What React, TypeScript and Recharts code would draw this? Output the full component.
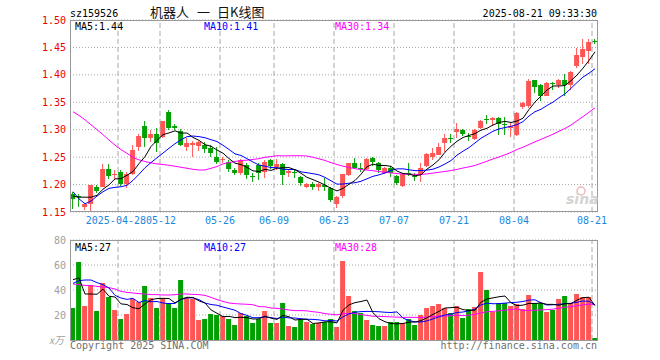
import React from 'react';
import { ComposedChart, Bar, Line, XAxis, YAxis, CartesianGrid, ReferenceLine } from 'recharts';

const dates = ['04-16','04-17','04-18','04-21','04-22','04-23','04-24','04-25','04-28','04-29','04-30','05-06','05-07','05-08','05-09','05-12','05-13','05-14','05-15','05-16','05-19','05-20','05-21','05-22','05-23','05-26','05-27','05-28','05-29','05-30','06-03','06-04','06-05','06-06','06-09','06-10','06-11','06-12','06-13','06-16','06-17','06-18','06-19','06-20','06-23','06-24','06-25','06-26','06-27','06-30','07-01','07-02','07-03','07-04','07-07','07-08','07-09','07-10','07-11','07-14','07-15','07-16','07-17','07-18','07-21','07-22','07-23','07-24','07-25','07-28','07-29','07-30','07-31','08-01','08-04','08-05','08-06','08-07','08-08','08-11','08-12','08-13','08-14','08-15','08-18','08-19','08-20','08-21'];

const openP = [1.182,1.179,1.160,1.165,1.196,1.196,1.229,1.217,1.223,1.201,
 1.219,1.269,1.307,1.284,1.293,1.287,1.333,1.306,1.298,1.269,
 1.273,1.271,1.273,1.266,1.251,1.244,1.242,1.227,1.221,1.236,
 1.215,1.235,1.223,1.245,1.232,1.238,1.221,1.223,1.214,1.196,
 1.201,1.196,1.200,1.193,1.165,1.179,1.218,1.239,1.230,1.228,
 1.248,1.240,1.221,1.231,1.216,1.198,1.222,1.216,1.219,1.233,
 1.251,1.254,1.275,1.285,1.295,1.300,1.288,1.283,1.303,1.319,
 1.317,1.322,1.311,1.304,1.290,1.341,1.343,1.390,1.381,1.362,
 1.385,1.381,1.390,1.381,1.416,1.433,1.444,1.461];

const highP = [1.186,1.183,1.167,1.200,1.200,1.237,1.237,1.227,1.227,1.223,
 1.272,1.292,1.315,1.300,1.303,1.316,1.336,1.311,1.302,1.285,
 1.280,1.280,1.277,1.272,1.268,1.251,1.245,1.230,1.246,1.239,
 1.221,1.239,1.245,1.246,1.246,1.240,1.228,1.228,1.215,1.203,
 1.204,1.203,1.212,1.195,1.179,1.220,1.240,1.248,1.239,1.248,
 1.251,1.241,1.232,1.234,1.217,1.221,1.239,1.221,1.240,1.257,
 1.266,1.275,1.292,1.292,1.312,1.301,1.294,1.301,1.318,1.327,
 1.323,1.323,1.324,1.312,1.333,1.351,1.392,1.391,1.383,1.387,
 1.387,1.392,1.401,1.407,1.449,1.466,1.466,1.466];

const lowP = [1.155,1.159,1.154,1.151,1.185,1.195,1.210,1.209,1.197,1.193,
 1.217,1.262,1.268,1.278,1.260,1.284,1.300,1.299,1.270,1.262,
 1.250,1.262,1.258,1.251,1.238,1.240,1.223,1.218,1.218,1.211,
 1.205,1.208,1.212,1.228,1.227,1.200,1.213,1.212,1.197,1.193,
 1.190,1.188,1.189,1.168,1.158,1.176,1.216,1.228,1.223,1.226,
 1.233,1.222,1.219,1.213,1.199,1.195,1.215,1.207,1.205,1.232,
 1.245,1.253,1.260,1.275,1.284,1.288,1.280,1.281,1.301,1.311,
 1.307,1.291,1.291,1.287,1.288,1.337,1.340,1.367,1.353,1.361,
 1.373,1.376,1.362,1.373,1.412,1.419,1.420,1.457];

const closeP = [1.173,1.177,1.165,1.199,1.188,1.229,1.216,1.220,1.201,1.219,
 1.263,1.288,1.284,1.293,1.275,1.315,1.304,1.303,1.272,1.276,
 1.275,1.277,1.264,1.257,1.242,1.246,1.228,1.222,1.244,1.217,
 1.214,1.222,1.242,1.234,1.238,1.217,1.224,1.222,1.202,1.201,
 1.196,1.201,1.196,1.172,1.177,1.219,1.239,1.230,1.229,1.246,
 1.242,1.227,1.230,1.221,1.203,1.220,1.221,1.215,1.230,1.255,
 1.258,1.268,1.284,1.284,1.301,1.292,1.287,1.300,1.316,1.318,
 1.322,1.310,1.310,1.306,1.331,1.348,1.389,1.378,1.361,1.386,
 1.384,1.390,1.381,1.406,1.437,1.447,1.460,1.460];

const ma5P = [1.179,1.177,1.177,1.177,1.1804,1.1916,1.1994,1.2104,1.2108,1.217,
 1.2238,1.2382,1.251,1.2694,1.2806,1.291,1.2942,1.298,1.2938,1.294,
 1.286,1.2806,1.2728,1.2698,1.263,1.2572,1.2474,1.239,1.2364,1.2314,
 1.225,1.2238,1.2278,1.2258,1.23,1.2306,1.231,1.227,1.2206,1.2132,
 1.209,1.2044,1.1992,1.1932,1.1884,1.193,1.2006,1.2074,1.2188,1.2326,
 1.2372,1.2348,1.2348,1.2332,1.2246,1.2202,1.219,1.216,1.2178,1.2282,
 1.2358,1.2452,1.259,1.2698,1.279,1.2858,1.2896,1.2928,1.2992,1.3026,
 1.3086,1.3132,1.3152,1.3132,1.3158,1.321,1.3368,1.3504,1.3614,1.3724,
 1.3796,1.3798,1.3804,1.3894,1.3996,1.4122,1.4262,1.442];

const ma10P = [1.187,1.174,1.165,1.170,1.179,1.187,1.193,1.195,1.196,1.1987,
 1.2077,1.2188,1.2307,1.2401,1.2488,1.2574,1.2662,1.2745,1.2816,1.2873,
 1.2885,1.2874,1.2854,1.2818,1.2785,1.2716,1.264,1.2559,1.2531,1.2472,
 1.2411,1.2356,1.2334,1.2311,1.2307,1.2278,1.2274,1.2274,1.2232,1.2216,
 1.2198,1.2177,1.2131,1.2069,1.2008,1.201,1.2025,1.2033,1.206,1.2105,
 1.2151,1.2177,1.2211,1.226,1.2286,1.2287,1.2269,1.2254,1.2255,1.2264,
 1.228,1.2321,1.2375,1.2438,1.2536,1.2608,1.2674,1.2759,1.2845,1.2908,
 1.2972,1.3014,1.304,1.3062,1.3092,1.3148,1.325,1.3328,1.3373,1.3441,
 1.3503,1.3583,1.3654,1.3754,1.386,1.3959,1.403,1.4112];

const ma30P = [1.3327,1.326,1.318,1.309,1.300,1.291,1.281,1.272,1.2636,1.257,
 1.2494,1.245,1.242,1.2396,1.2377,1.2365,1.2352,1.2334,1.2315,1.2297,
 1.2278,1.2266,1.2266,1.2297,1.2328,1.2377,1.2402,1.242,1.2439,1.2444,
 1.2458,1.2473,1.2498,1.251,1.2527,1.2523,1.2525,1.2526,1.2526,1.252,
 1.2498,1.2469,1.244,1.2399,1.2367,1.2335,1.2313,1.2289,1.2274,1.2264,
 1.2253,1.2237,1.2225,1.2213,1.22,1.2192,1.2189,1.2187,1.2182,1.2195,
 1.221,1.2225,1.2239,1.2256,1.2277,1.2302,1.2323,1.2349,1.2387,1.2426,
 1.2468,1.2504,1.2542,1.2587,1.2638,1.2681,1.2731,1.278,1.2824,1.2871,
 1.2918,1.2973,1.3023,1.3085,1.3163,1.3238,1.3318,1.34];

const volume = [25.5,62.5,27.5,44.2,23.5,45.9,34.1,24.2,17.0,21.0,
 32.8,30.2,43.4,33.7,25.7,33.7,29.7,25.7,48.2,33.7,
 32.8,16.2,17.0,20.8,20.2,19.5,17.0,12.2,21.9,19.0,
 14.0,17.2,23.5,14.0,14.0,29.9,11.5,10.8,16.2,14.8,
 12.7,13.8,14.8,17.0,10.1,63.5,35.3,23.5,21.4,16.4,
 12.2,11.4,11.4,14.7,14.7,14.0,16.6,12.2,20.2,26.0,
 27.3,29.0,25.7,21.7,27.3,18.0,25.1,26.7,54.0,40.2,
 22.6,29.3,29.7,27.3,28.6,24.5,36.2,29.5,29.5,22.8,
 24.4,33.0,35.4,29.8,37.0,34.3,34.3,1.7];

const vma5 = [48.3,49.6,36.8,36.8,36.6,40.7,35.0,34.4,28.9,28.4,
 25.8,25.0,28.9,32.2,33.2,33.3,33.2,29.7,32.6,34.2,
 34.0,31.3,29.6,24.1,21.4,18.7,18.9,17.9,18.2,17.9,
 16.8,16.9,19.1,17.5,16.5,19.7,18.6,16.0,16.5,16.6,
 13.2,13.7,14.5,14.6,13.7,23.8,28.1,29.9,30.8,32.0,
 21.8,17.0,14.6,13.2,12.9,13.2,14.3,14.4,15.5,17.8,
 20.5,22.9,25.6,25.9,26.2,24.3,23.6,23.8,30.2,32.8,
 33.7,34.6,35.2,29.8,27.5,27.9,29.3,29.2,29.7,28.5,
 28.5,27.8,29.0,29.1,31.9,33.9,34.2,27.4];

const vma10 = [45.3,47.5,48.0,48.0,45.9,44.3,41.6,35.7,33.6,32.5,
 33.3,30.0,31.6,30.6,30.8,29.6,29.1,29.3,32.4,33.7,
 33.7,32.3,29.6,28.4,27.8,26.4,25.1,23.8,21.1,19.7,
 17.8,17.9,18.5,17.9,17.2,18.3,17.7,17.6,17.0,16.6,
 16.5,16.1,15.3,15.6,15.2,18.5,20.9,22.2,22.7,22.9,
 22.8,22.6,22.2,22.0,22.5,17.5,15.6,14.5,14.4,15.3,
 16.9,18.6,20.0,20.7,22.0,22.4,23.3,24.7,28.1,29.5,
 29.0,29.1,29.5,30.0,30.2,30.8,31.9,32.2,29.7,28.0,
 28.2,28.6,29.1,29.4,30.2,31.2,31.0,28.2];

const vma30 = [44.8,44.3,43.7,43.5,42.9,42.4,41.9,40.8,38.9,38.1,
 37.6,37.1,36.8,36.3,36.3,36.0,36.0,36.3,36.8,36.8,
 36.5,36.3,35.7,34.1,32.3,30.9,29.6,29.1,28.8,28.6,
 28.2,26.7,26.6,25.6,25.3,24.7,24.0,23.5,23.5,23.3,
 22.6,22.1,21.1,20.6,20.1,21.1,21.2,21.2,20.3,19.7,
 19.0,18.9,18.7,18.5,18.3,18.1,18.1,18.1,18.0,18.3,
 18.7,19.1,19.2,19.4,19.9,19.5,19.9,20.5,21.7,22.6,
 22.9,23.4,23.9,24.3,24.9,23.6,23.6,23.8,24.1,24.3,
 24.7,25.4,26.2,26.7,27.5,28.1,28.7,28.4];

const tickDates = ['04-28','05-12','05-26','06-09','06-23','07-07','07-21','08-04','08-21'];
const tickLabels = ['2025-04-28','05-12','05-26','06-09','06-23','07-07','07-21','08-04','08-21'];
const priceTicks = [1.15,1.2,1.25,1.3,1.35,1.4,1.45,1.5];
const volTicks = [0,20,40,60,80];
const priceLegend = ['MA5:1.44','MA10:1.41','MA30:1.34'];
const volLegend = ['MA5:27','MA10:27','MA30:28'];

const RED = '#ff5555';
const GREEN = '#00a000';
const MONO = 'DejaVu Sans Mono';
const GRIDC = '#a8a8a8';

const rows = dates.map((d, i) => ({
  d,
  o: openP[i], h: highP[i], l: lowP[i], c: closeP[i],
  range: [lowP[i], highP[i]],
  ma5: ma5P[i], ma10: ma10P[i], ma30: ma30P[i],
  v: volume[i], vma5: vma5[i], vma10: vma10[i], vma30: vma30[i],
}));

const Candle = (props: any) => {
  const { x, y, width, height, payload } = props;
  if (x == null || y == null) return null;
  const { o, h, l, c } = payload;
  const cx = x + width / 2;
  const top = Math.min(y, y + height);
  const bot = Math.max(y, y + height);
  const span = h - l;
  const py = (val: number) => (span > 0 ? top + ((h - val) / span) * (bot - top) : top);
  const color = c >= o ? RED : GREEN;
  const bt = Math.round(py(Math.max(o, c)));
  const bb = Math.round(py(Math.min(o, c)));
  const bh = Math.max(1, bb - bt);
  return (
    <g>
      <line x1={cx - 0.5} x2={cx - 0.5} y1={Math.round(top)} y2={Math.round(bot)} stroke={color} strokeWidth={1} />
      <rect x={cx - 3} y={bt} width={5} height={bh} fill={color} />
    </g>
  );
};

const VolBar = (props: any) => {
  const { x, y, width, height, payload } = props;
  if (x == null || y == null) return null;
  const cx = x + width / 2;
  const top = Math.round(Math.min(y, y + height));
  const bot = Math.round(Math.max(y, y + height));
  const color = payload.c >= payload.o ? RED : GREEN;
  return <rect x={cx - 3} y={top} width={5} height={Math.max(1, bot - top)} fill={color} />;
};

const DateTick = (props: any) => {
  const { x, y, payload } = props;
  const idx = tickDates.indexOf(payload.value);
  if (idx < 0) return null;
  // first (long) label ends where the second begins, as in the reference
  if (idx === 0) {
    return (
      <text x={x + 25} y={y + 12} textAnchor="end" fill="#1a88dd" fontSize={10} fontFamily={MONO}>
        {tickLabels[idx]}
      </text>
    );
  }
  const dx = idx === 1 ? -2 : -3;
  return (
    <text x={x + dx} y={y + 12} textAnchor="middle" fill="#1a88dd" fontSize={10} fontFamily={MONO}>
      {tickLabels[idx]}
    </text>
  );
};

export default function App() {
  return (
    <div style={{ position: 'absolute', left: 0, top: 0, width: 660, height: 360, background: '#fff', overflow: 'hidden' }}>
      <div style={{ position: 'absolute', left: 0, top: 0 }}>
        <ComposedChart width={660} height={232} data={rows} margin={{ top: 20, right: 62, bottom: 0, left: 0 }}>
          <CartesianGrid vertical={false} stroke={GRIDC} strokeDasharray="1 2" />
          <XAxis dataKey="d" ticks={tickDates} interval={0} tickLine={false} axisLine={false} tickSize={0} tickMargin={0} height={20} tick={(p: any) => <DateTick {...p} />} />
          <YAxis width={70} domain={[1.15, 1.5]} allowDataOverflow ticks={priceTicks} tickFormatter={(v: number) => v.toFixed(2)} axisLine={false} tickLine={false} tickSize={0} tickMargin={4} tick={{ fill: '#ee0000', fontSize: 10, fontFamily: MONO }} />
          {tickDates.map((d) => (
            <ReferenceLine key={d} x={d} position="start" stroke={GRIDC} strokeDasharray="5 3" />
          ))}
          <Bar dataKey="range" shape={(p: any) => <Candle {...p} />} isAnimationActive={false} />
          <Line type="linear" dataKey="ma30" stroke="#ff00ff" strokeWidth={1} dot={false} activeDot={false} isAnimationActive={false} />
          <Line type="linear" dataKey="ma10" stroke="#0000ff" strokeWidth={1} dot={false} activeDot={false} isAnimationActive={false} />
          <Line type="linear" dataKey="ma5" stroke="#000000" strokeWidth={1} dot={false} activeDot={false} isAnimationActive={false} />
        </ComposedChart>
      </div>
      <div style={{ position: 'absolute', left: 0, top: 232 }}>
        <ComposedChart width={660} height={128} data={rows} margin={{ top: 8, right: 62, bottom: 20, left: 0 }}>
          <CartesianGrid vertical={false} stroke={GRIDC} strokeDasharray="1 2" />
          <XAxis dataKey="d" hide />
          <YAxis width={70} domain={[0, 80]} allowDataOverflow ticks={volTicks} tickFormatter={(v: number) => (v === 0 ? '' : String(v))} axisLine={false} tickLine={false} tickSize={0} tickMargin={4} tick={{ fill: '#a0a0a0', fontSize: 10, fontFamily: MONO }} />
          {tickDates.map((d) => (
            <ReferenceLine key={d} x={d} position="start" stroke={GRIDC} strokeDasharray="5 3" />
          ))}
          <Bar dataKey="v" shape={(p: any) => <VolBar {...p} />} isAnimationActive={false} />
          <Line type="linear" dataKey="vma30" stroke="#ff00ff" strokeWidth={1} dot={false} activeDot={false} isAnimationActive={false} />
          <Line type="linear" dataKey="vma10" stroke="#0000ff" strokeWidth={1} dot={false} activeDot={false} isAnimationActive={false} />
          <Line type="linear" dataKey="vma5" stroke="#000000" strokeWidth={1} dot={false} activeDot={false} isAnimationActive={false} />
        </ComposedChart>
      </div>
      <svg width={660} height={360} style={{ position: 'absolute', left: 0, top: 0, pointerEvents: 'none' }}>
        <rect x={70.5} y={20.5} width={527} height={191} fill="none" stroke="#999" strokeWidth={1} />
        <rect x={70.5} y={240.5} width={527} height={100} fill="none" stroke="#999" strokeWidth={1} />
        <text x={70} y={17} fontSize={10} fontFamily={MONO} fill="#000">sz159526</text>
        <text x={150} y={17} fontSize={13} fontFamily="Noto Sans CJK SC" fill="#111">机器人</text>
        <text x={197} y={17} fontSize={13} fontFamily="Noto Sans CJK SC" fill="#111">一</text>
        <text x={217} y={17} fontSize={13} fontFamily="Noto Sans CJK SC" fill="#111">日K线图</text>
        <text x={597} y={17} textAnchor="end" fontSize={10} fontFamily={MONO} fill="#000">2025-08-21 09:33:30</text>
        <text x={75} y={30} fontSize={10} fontFamily={MONO} fill="#000">{priceLegend[0]}</text>
        <text x={204} y={30} fontSize={10} fontFamily={MONO} fill="#0000ff">{priceLegend[1]}</text>
        <text x={335} y={30} fontSize={10} fontFamily={MONO} fill="#ff00ff">{priceLegend[2]}</text>
        <text x={75} y={251} fontSize={10} fontFamily={MONO} fill="#000">{volLegend[0]}</text>
        <text x={204} y={251} fontSize={10} fontFamily={MONO} fill="#0000ff">{volLegend[1]}</text>
        <text x={335} y={251} fontSize={10} fontFamily={MONO} fill="#ff00ff">{volLegend[2]}</text>
        <text x={49} y={344} fontSize={10} fontFamily="Noto Sans CJK SC" fill="#a0a0a0" fontStyle="italic">x万</text>
        <text x={70} y={349} fontSize={10} fontFamily={MONO} fill="#707070">Copyright 2025 SINA.COM</text>
        <text x={597} y={349} textAnchor="end" fontSize={10} fontFamily={MONO} fill="#707070">http://finance.sina.com.cn</text>
        <circle cx={581} cy={191} r={4} fill="none" stroke="#f2b8b8" strokeWidth={1.5} />
        <text x={566} y={204} fontSize={14} fontFamily="DejaVu Sans" fontStyle="italic" fontWeight="bold" fill="#d4d4d4">sina</text>
      </svg>
    </div>
  );
}
